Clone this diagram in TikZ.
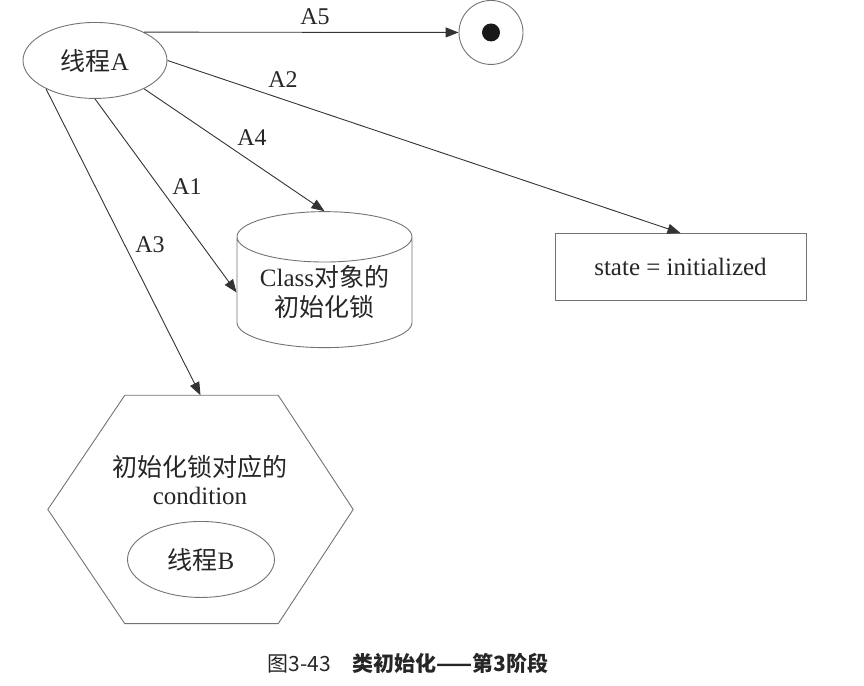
\documentclass[tikz,border=0pt]{standalone}
\usepackage{fontspec}
\setmainfont{Liberation Serif}
\newfontfamily\cjk{Noto Sans CJK SC}
\usetikzlibrary{arrows.meta,shapes.geometric}

\tikzset{
  flow/.style={draw=black!80, line width=0.9pt, -{Triangle[length=13pt,width=10pt]}},
  lbl/.style={font=\fontsize{24}{26}\selectfont, text=black!85, inner sep=0pt},
  shp/.style={draw=black!55, line width=0.9pt, font=\fontsize{25}{30}\selectfont,
    text=black!85, align=center, inner sep=0pt}
}

\begin{document}
\begin{tikzpicture}[x=1pt,y=-1pt]
\path (0,0) rectangle (864,684);
% states
\node[shp, ellipse, minimum width=144pt, minimum height=76pt] (ta) at (95,59) {{\cjk 线程}A};
\node[shp, circle, minimum size=64pt] (fin) at (491,31) {};
\node[fill=black!90, circle, minimum size=18pt, inner sep=0pt] (dot) at (fin) {};
\node[shp, cylinder, shape border rotate=90, aspect=0.39, minimum width=175pt,
  minimum height=136pt] (lock) at (324.5,291) {Class{\cjk 对象的}\\{\cjk 初始化锁}};
\node[shp, rectangle, minimum width=251pt, minimum height=67pt] (st) at (680.5,265.5) {state = initialized};
% hexagon
\node[minimum width=305pt, minimum height=228pt, inner sep=0pt] (cond) at (200.5,508) {};
\draw[draw=black!55, line width=0.9pt] (cond.west) -- ([xshift=77pt]cond.north west)
  -- ([xshift=-75pt]cond.north east) -- (cond.east) -- ([xshift=-75pt]cond.south east)
  -- ([xshift=77pt]cond.south west) -- cycle;
\node[lbl, align=center, font=\fontsize{25}{28}\selectfont] (condtxt) at (200,479) {{\cjk 初始化锁对应的}\\condition};
\node[shp, ellipse, minimum width=147pt, minimum height=76pt] (tb) at (201,558) {{\cjk 线程}B};
% arrows
\draw[flow] (ta.30) -- (fin.west);
\draw[flow] (ta.east) -- (st.north);
\draw[flow] (ta.-30) -- (lock.north);
\draw[flow] (ta.south) -- (lock.west);
\draw[flow] (ta.-150) -- (cond.north);
\node[lbl] (la5) at (315,15) {A5};
\node[lbl] (la2) at (283,78) {A2};
\node[lbl] (la4) at (252,136) {A4};
\node[lbl] (la1) at (187,185) {A1};
\node[lbl] (la3) at (150,243) {A3};
% caption
\node[font=\cjk\fontsize{21}{24}\selectfont, text=black!85] (cap) at (408,662) {图3-43\quad{\bfseries 类初始化——第3阶段}};
\end{tikzpicture}
\end{document}
